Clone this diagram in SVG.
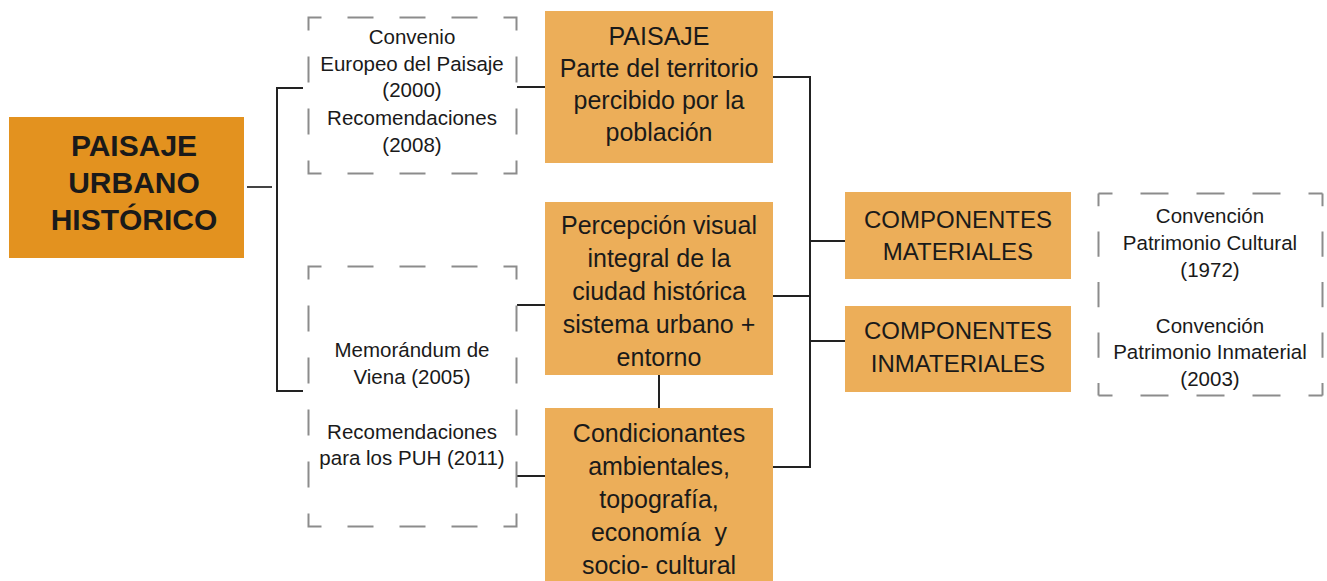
<svg xmlns="http://www.w3.org/2000/svg" width="1327" height="581" viewBox="0 0 1327 581">
<style>
.bg{fill:#ffffff}
.main{fill:#E3921F}
.box{fill:#ECAE59}
.t{font-family:"Liberation Sans",Arial,sans-serif;fill:#1a1a1a;text-anchor:middle}
.tb{font-size:25px}
.tc{font-size:24px}
.ts{font-size:20.5px}
.tm{font-size:30px;font-weight:bold}
.dash{fill:none;stroke:#8c8c8c;stroke-width:2}
.con{fill:none;stroke:#222;stroke-width:2}
.con2{fill:none;stroke:#444;stroke-width:2}
</style>
<rect class="bg" x="0" y="0" width="1327" height="581"/>

<g id="connectors">
  <path class="con2" d="M247 187 H272"/>
  <path class="con" d="M303 88 H277 V391 H303"/>
  <path class="con" d="M517 87 H545"/>
  <path class="con" d="M517 305 H545"/>
  <path class="con" d="M517 476 H545"/>
  <path class="con" d="M773 77 H810 V467 H773"/>
  <path class="con" d="M773 296 H810"/>
  <path class="con" d="M810 241 H845"/>
  <path class="con" d="M810 341 H845"/>
  <path class="con" d="M659 375 V408"/>
</g>

<g id="node-puh">
  <rect class="main" x="9" y="117" width="235" height="141"/>
  <text class="t tm" x="134" y="156">PAISAJE</text>
  <text class="t tm" x="134" y="193">URBANO</text>
  <text class="t tm" x="134" y="230">HISTÓRICO</text>
</g>

<g id="node-convenio">
  <rect class="dash" x="308.5" y="17.5" width="208" height="156" stroke-dasharray="26 26" stroke-dashoffset="13"/>
  <text class="t ts" x="412" y="44">Convenio</text>
  <text class="t ts" x="412" y="71">Europeo del Paisaje</text>
  <text class="t ts" x="412" y="97">(2000)</text>
  <text class="t ts" x="412" y="125">Recomendaciones</text>
  <text class="t ts" x="412" y="152">(2008)</text>
</g>

<g id="node-memorandum">
  <rect class="dash" x="308.5" y="266.5" width="208" height="260" stroke-dasharray="26 26" stroke-dashoffset="13"/>
  <text class="t ts" x="412" y="357">Memorándum de</text>
  <text class="t ts" x="412" y="384">Viena (2005)</text>
  <text class="t ts" x="412" y="439">Recomendaciones</text>
  <text class="t ts" x="412" y="465">para los PUH (2011)</text>
</g>

<g id="node-paisaje">
  <rect class="box" x="545" y="11" width="228" height="152"/>
  <text class="t tb" x="659" y="45">PAISAJE</text>
  <text class="t tb" x="659" y="77">Parte del territorio</text>
  <text class="t tb" x="659" y="109">percibido por la</text>
  <text class="t tb" x="659" y="141">población</text>
</g>

<g id="node-percepcion">
  <rect class="box" x="545" y="202" width="228" height="173"/>
  <text class="t tb" x="659" y="234">Percepción visual</text>
  <text class="t tb" x="659" y="267">integral de la</text>
  <text class="t tb" x="659" y="300">ciudad histórica</text>
  <text class="t tb" x="659" y="333">sistema urbano +</text>
  <text class="t tb" x="659" y="366">entorno</text>
</g>

<g id="node-condicionantes">
  <rect class="box" x="545" y="408" width="228" height="173"/>
  <text class="t tb" x="659" y="442">Condicionantes</text>
  <text class="t tb" x="659" y="475">ambientales,</text>
  <text class="t tb" x="659" y="508">topografía,</text>
  <text class="t tb" x="659" y="541" xml:space="preserve">economía  y</text>
  <text class="t tb" x="659" y="574">socio- cultural</text>
</g>

<g id="node-materiales">
  <rect class="box" x="845" y="192" width="226" height="87"/>
  <text class="t tc" x="958" y="228">COMPONENTES</text>
  <text class="t tc" x="958" y="260">MATERIALES</text>
</g>

<g id="node-inmateriales">
  <rect class="box" x="845" y="306" width="226" height="86"/>
  <text class="t tc" x="958" y="339">COMPONENTES</text>
  <text class="t tc" x="958" y="372">INMATERIALES</text>
</g>

<g id="node-convencion">
  <path class="dash" d="M1098.5 193.5 H1322.5 M1098.5 395.5 H1322.5" stroke-dasharray="28 28" stroke-dashoffset="14"/>
  <path class="dash" d="M1098.5 193.5 V395.5 M1322.5 193.5 V395.5" stroke-dasharray="25.25 25.25" stroke-dashoffset="12.6"/>
  <text class="t ts" x="1210" y="223">Convención</text>
  <text class="t ts" x="1210" y="250">Patrimonio Cultural</text>
  <text class="t ts" x="1210" y="277">(1972)</text>
  <text class="t ts" x="1210" y="333">Convención</text>
  <text class="t ts" x="1210" y="359">Patrimonio Inmaterial</text>
  <text class="t ts" x="1210" y="386">(2003)</text>
</g>
</svg>
